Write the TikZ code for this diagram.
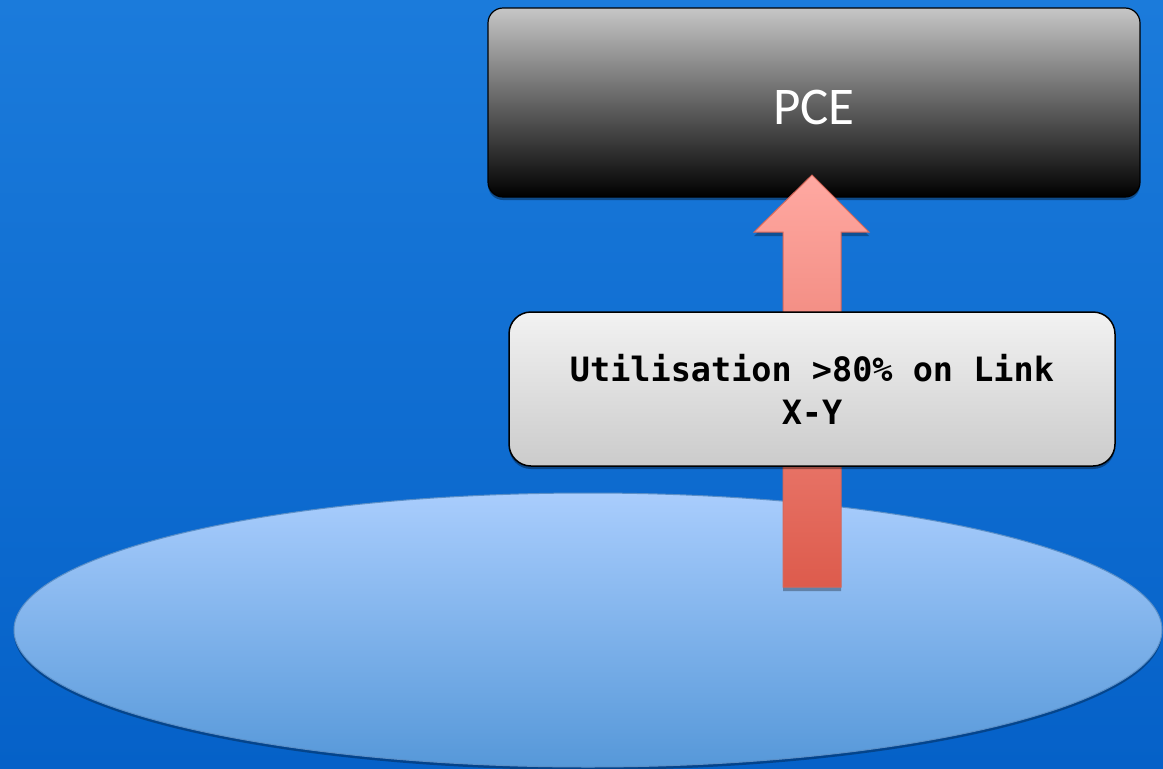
\documentclass[tikz,border=0pt]{standalone}
\usepackage{fontspec}
\setmainfont{Carlito}
\newfontfamily\labelmono{DejaVu Sans Mono}
\usetikzlibrary{shapes.geometric,shadows,calc}
\definecolor{bgtop}{RGB}{27,123,219}
\definecolor{bgbot}{RGB}{5,97,200}
\definecolor{elltop}{RGB}{169,205,253}
\definecolor{ellbot}{RGB}{86,152,217}
\definecolor{ellline}{RGB}{91,143,199}
\definecolor{pcetop}{RGB}{198,198,198}
\definecolor{arrtop}{RGB}{255,169,162}
\definecolor{arrbot}{RGB}{221,91,76}
\definecolor{arrline}{RGB}{214,104,90}
\definecolor{lbltop}{RGB}{242,242,242}
\definecolor{lblbot}{RGB}{203,203,203}
\tikzset{
  softshadow/.style={drop shadow={opacity=0.35,shadow xshift=0pt,shadow yshift=-3pt,fill=black}},
  pcebox/.style={draw=black,line width=1.2pt,rounded corners=15pt,top color=pcetop,bottom color=black,
    minimum width=652pt,minimum height=189pt,inner sep=0pt,text=white,
    font=\fontsize{53}{60}\selectfont,text height=43pt,text depth=0pt,softshadow},
  lblbox/.style={draw=black,line width=1.5pt,rounded corners=22pt,top color=lbltop,bottom color=lblbot,
    minimum width=606pt,minimum height=154pt,inner sep=0pt,align=center,
    font=\labelmono\bfseries\fontsize{33.5}{43}\selectfont,softshadow},
  netell/.style={ellipse,draw=ellline,line width=1pt,top color=elltop,bottom color=ellbot,
    minimum width=1148pt,minimum height=274pt,inner sep=0pt,
    drop shadow={opacity=0.3,shadow xshift=0pt,shadow yshift=-3pt,fill=black}},
  blockarrow/.style={draw=arrline,line width=1pt,top color=arrtop,bottom color=arrbot,
    drop shadow={opacity=0.3,shadow xshift=0pt,shadow yshift=-4pt,fill=black}}
}
\begin{document}
\begin{tikzpicture}[x=1pt,y=-1pt]
\useasboundingbox (0,0) rectangle (1163,769);
\shade[top color=bgtop,bottom color=bgbot] (0,0) rectangle (1163,769);
\node[netell] (net) at (588,630) {};
\node[pcebox] (pce) at (814,102.5) {PCE};
\coordinate (tail) at (812,587);
\coordinate (tip) at (812,175);
\path[blockarrow] (tip) -- ($(tip)+(57,57)$) -- ($(tip)+(29,57)$) -- ($(tail)+(29,0)$)
  -- ($(tail)+(-29,0)$) -- ($(tip)+(-29,57)$) -- ($(tip)+(-58,57)$) -- cycle;
\node[lblbox] (lbl) at (812,389) {Utilisation >80\% on Link\\X-Y};
\end{tikzpicture}
\end{document}
